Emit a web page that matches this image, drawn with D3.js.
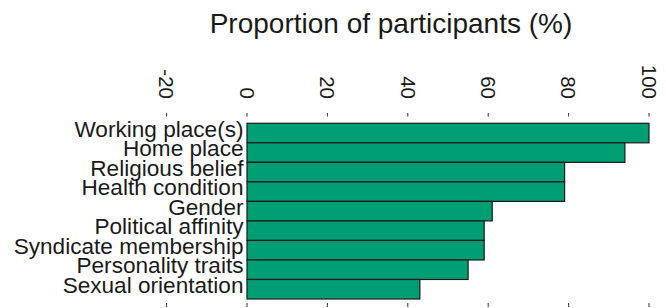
<html>
<head>
    <meta charset="utf-8">
    <title>Proportion of participants</title>
    <style>
        body { margin: 0; background: #fff; }
        text { font-family: "Liberation Sans", Arial, sans-serif; fill: #1a1a1a; }
    </style>
</head>
<body>
    <script src="https://cdn.jsdelivr.net/npm/d3@7"></script>
    <script>
        // data
        var categories = ["Working place(s)", "Home place", "Religious belief", "Health condition",
            "Gender", "Political affinity", "Syndicate membership", "Personality traits", "Sexual orientation"];
        var values = [100, 94, 79, 79, 61, 59, 59, 55, 43];
        var tickValues = [-20, 0, 20, 40, 60, 80, 100];
        var title = "Proportion of participants (%)";

        var width = 666, height = 308;

        var svg = d3.select("body").append("svg")
            .attr("width", width)
            .attr("height", height);

        var x = d3.scaleLinear().domain([0, 100]).range([247, 649]);
        var y = d3.scaleBand().domain(categories).range([123.3, 299]).padding(0);

        // title
        svg.append("text")
            .attr("x", 391)
            .attr("y", 33)
            .attr("text-anchor", "middle")
            .attr("font-size", 28)
            .text(title);

        // top axis, labels rotated to read top to bottom
        var topAxis = svg.append("g");
        topAxis.selectAll("line")
            .data(tickValues)
            .join("line")
            .attr("x1", d => x(d)).attr("x2", d => x(d))
            .attr("y1", 113).attr("y2", 116.5)
            .attr("stroke", "#333").attr("stroke-width", 1);
        topAxis.selectAll("text")
            .data(tickValues)
            .join("text")
            .attr("transform", d => `translate(${x(d)},99) rotate(90)`)
            .attr("text-anchor", "end")
            .attr("dy", "0.35em")
            .attr("font-size", 20.5)
            .text(d => d);

        // bottom tick marks only
        svg.append("g").selectAll("line")
            .data(tickValues)
            .join("line")
            .attr("x1", d => x(d)).attr("x2", d => x(d))
            .attr("y1", 303).attr("y2", 307)
            .attr("stroke", "#333").attr("stroke-width", 1);

        // bars
        svg.append("g").selectAll("rect")
            .data(values)
            .join("rect")
            .attr("x", x(0))
            .attr("y", (d, i) => y(categories[i]))
            .attr("width", d => x(d) - x(0))
            .attr("height", y.bandwidth())
            .attr("fill", "#009E73")
            .attr("stroke", "#1a1a1a")
            .attr("stroke-width", 1.2);

        // category labels (tight line spacing, as in the original)
        svg.append("g").selectAll("text")
            .data(categories)
            .join("text")
            .attr("x", 243.5)
            .attr("y", d => y(d) + y.bandwidth() / 2)
            .attr("dy", "0.16em")
            .attr("text-anchor", "end")
            .attr("font-size", 22.6)
            .text(d => d);
    </script>
</body>
</html>
